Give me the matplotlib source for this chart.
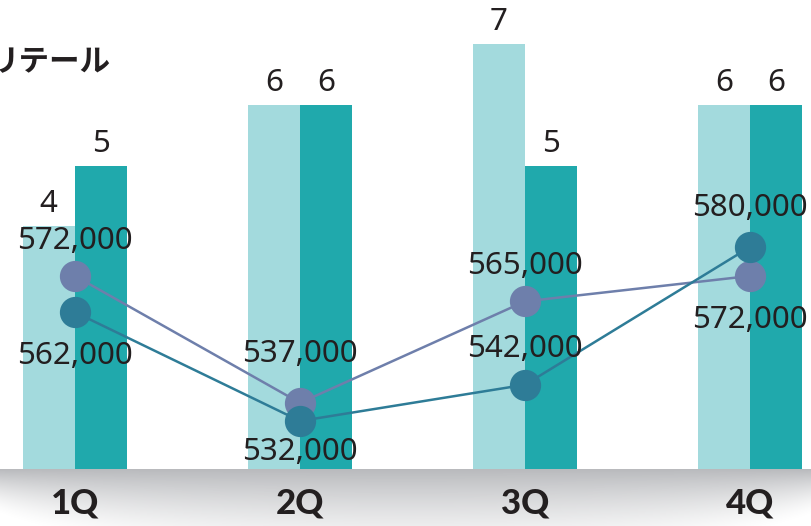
import matplotlib
matplotlib.use("Agg")
import matplotlib.pyplot as plt
import numpy as np

# data
quarters = ["1Q", "2Q", "3Q", "4Q"]
bars_light = [4, 6, 7, 6]
bars_dark = [5, 6, 5, 6]
line_purple = [572000, 537000, 565000, 572000]
line_teal = [562000, 532000, 542000, 580000]

c_light = "#a3dadd"
c_dark = "#20a9ac"
c_purple = "#6e7fab"
c_teal = "#2e7c97"
c_text = "#231f20"

W, H = 812, 526
fig = plt.figure(figsize=(W / 100, H / 100), dpi=100)

# shadow under the baseline
base_px = 469
sh = fig.add_axes([0, 0, 1, (H - base_px) / H])
sh.set_axis_off()
yy, xx = np.mgrid[0:H - base_px, 0:W]
depth = 95 * np.sqrt(np.clip(1 - ((xx - W / 2) / 460) ** 2, 0.02, 1))
alpha = np.clip(1 - yy / depth, 0, 1) ** 1.5 * 0.62
img = np.zeros((H - base_px, W, 4))
img[..., :3] = np.array([0x8e, 0x90, 0x95]) / 255
img[..., 3] = alpha
sh.imshow(img, aspect="auto", extent=[0, W, H - base_px, 0])
sh.set_xlim(0, W)
sh.set_ylim(H - base_px, 0)

# main axes: category spacing 225px, centers at 75, 300, 525, 750
left_px = 75 - 112.5
ax = fig.add_axes([left_px / W, (H - base_px) / H, 900 / W, base_px / H])
ax.set_xlim(-0.5, 3.5)
ax.set_ylim(0, base_px / 60.7)
ax.set_axis_off()

x = np.arange(len(quarters))
w = 0.233
ax.bar(x - w / 2, bars_light, w, color=c_light, zorder=1)
ax.bar(x + w / 2, bars_dark, w, color=c_dark, zorder=1)

num_font = dict(family=["Noto Sans", "DejaVu Sans"], fontsize=22.5, color=c_text)
for xi, v in zip(x - w / 2, bars_light):
    ax.annotate(str(v), (xi, v), xytext=(0, 5), textcoords="offset points",
                ha="center", va="bottom", **num_font)
for xi, v in zip(x + w / 2, bars_dark):
    ax.annotate(str(v), (xi, v), xytext=(0, 5), textcoords="offset points",
                ha="center", va="bottom", **num_font)

ax2 = ax.twinx()
ax2.set_axis_off()
v_top = 572000 + 276 / 3.625 * 1000
v_bot = 572000 - (base_px - 276) / 3.625 * 1000
ax2.set_ylim(v_bot, v_top)
ax2.plot(x, line_purple, color=c_purple, lw=1.8, marker="o", ms=21.5, zorder=3)
ax2.plot(x, line_teal, color=c_teal, lw=1.8, marker="o", ms=21.5, zorder=4)

# label offsets in px (negative = above)
off_purple = [-35, -49, -35, 44]
off_teal = [44, 31, -36, -39]
for xi, v, o in zip(x, line_purple, off_purple):
    ax2.annotate(f"{v:,}", (xi, v), xytext=(0, -o * 0.72), textcoords="offset points",
                 ha="center", va="center", zorder=5, **num_font)
for xi, v, o in zip(x, line_teal, off_teal):
    ax2.annotate(f"{v:,}", (xi, v), xytext=(0, -o * 0.72), textcoords="offset points",
                 ha="center", va="center", zorder=5, **num_font)

# category labels
for xi, q in zip(x, quarters):
    fig.text((75 + 225 * xi) / W, 1 - 503 / H, q, ha="center", va="center",
             fontsize=25, fontweight="black", color=c_text,
             family=["Lato", "DejaVu Sans"])

fig.text(110 / W, 1 - 62 / H, "リテール", ha="right", va="center", fontsize=22,
         fontweight="bold", color=c_text, family=["Noto Sans CJK JP", "DejaVu Sans"])

fig.savefig("out.png", dpi=100)
